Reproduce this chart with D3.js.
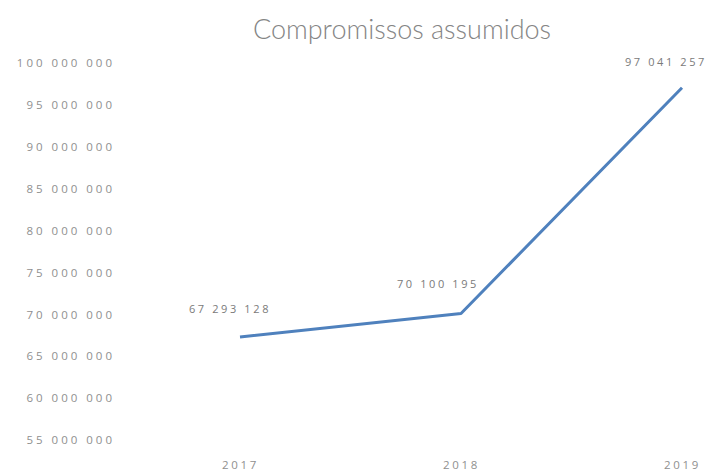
<!DOCTYPE html>
<html><head><meta charset="utf-8">
<script src="https://cdn.jsdelivr.net/npm/d3@7"></script>
<style>body{margin:0;background:#fff}svg{display:block}</style>
</head><body>
<script>
const years = ["2017","2018","2019"];
const values = [67293128, 70100195, 97041257];
const yTicks = [55000000,60000000,65000000,70000000,75000000,80000000,85000000,90000000,95000000,100000000];
const title = "Compromissos assumidos";

const W=708,H=475;
const svg=d3.select("body").append("svg").attr("width",W).attr("height",H);
const x=d3.scalePoint().domain(years).range([240,682]);
const y=d3.scaleLinear().domain([55000000,100000000]).range([440,63]);
const fmt=v=>d3.format(",")(v).replace(/,/g," ");

svg.append("text").attr("x",402).attr("y",39).attr("text-anchor","middle")
  .attr("font-family","Lato, 'Open Sans', sans-serif").attr("font-weight",300).attr("font-size",27).attr("fill","#858585").text(title);

const ya=svg.append("g").attr("transform","translate(115,0)")
  .call(d3.axisLeft(y).tickValues(yTicks).tickFormat(fmt).tickSize(0).tickPadding(0));
ya.select(".domain").remove();
ya.selectAll("text").attr("font-family","'Open Sans', sans-serif").attr("font-size",11.5).attr("fill","#8f8f8f").attr("letter-spacing","3px");

const xa=svg.append("g").attr("transform","translate(0,461)")
  .call(d3.axisBottom(x).tickSize(0).tickPadding(0));
xa.select(".domain").remove();
xa.selectAll("text").attr("font-family","'Open Sans', sans-serif").attr("font-size",11.5).attr("fill","#8f8f8f").attr("letter-spacing","2.7px");

const line=d3.line().x((d,i)=>x(years[i])).y(d=>y(d));
svg.append("path").datum(values).attr("d",line).attr("fill","none")
  .attr("stroke","#4f81bd").attr("stroke-width",3).attr("stroke-linejoin","round");

const lab=[{dx:-10,dy:-24,anchor:"middle"},{dx:18,dy:-25,anchor:"end"},{dx:25,dy:-22,anchor:"end"}];
svg.selectAll(".lbl").data(values).join("text")
  .attr("x",(d,i)=>x(years[i])+lab[i].dx).attr("y",(d,i)=>y(d)+lab[i].dy)
  .attr("text-anchor",(d,i)=>lab[i].anchor)
  .attr("font-family","'Open Sans', sans-serif").attr("font-size",11).attr("fill","#7a7a7a").attr("letter-spacing","2.6px")
  .text(fmt);
</script>
</body></html>
